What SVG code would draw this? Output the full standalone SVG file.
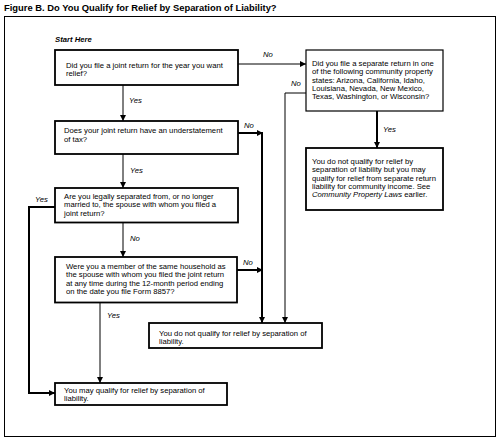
<svg xmlns="http://www.w3.org/2000/svg" width="498" height="440" viewBox="0 0 498 440">
<style>
text{font-family:"Liberation Sans",Arial,sans-serif;font-size:7.7px;fill:#000}
.title{font-size:9.4px;font-weight:bold}
.lbl{font-style:italic}
.start{font-weight:bold;font-style:italic}
.box{fill:#fff;stroke:#000;stroke-width:1.8}
.thin{fill:none;stroke:#000;stroke-width:1}
.thick{fill:none;stroke:#000;stroke-width:2}
</style>
<defs>
<marker id="ah" markerUnits="userSpaceOnUse" markerWidth="6" markerHeight="6" refX="6" refY="3" orient="auto">
<path d="M0,0 L6,3 L0,6 z" fill="#000"/>
</marker>
</defs>
<rect width="498" height="440" fill="#fff"/>
<text class="title" x="4" y="11">Figure B. Do You Qualify for Relief by Separation of Liability?</text>
<rect x="4.5" y="16.5" width="491" height="420" fill="none" stroke="#000" stroke-width="1"/>
<text class="start" x="55" y="42">Start Here</text>

<g id="connectors">
<path class="thin" d="M123,85 V121" marker-end="url(#ah)"/>
<path class="thin" d="M238,64 H306" marker-end="url(#ah)"/>
<path class="thick" d="M238,133 H263" marker-end="url(#ah)"/>
<path class="thick" d="M262,133 V323" marker-end="url(#ah)"/>
<path class="thin" d="M123,154 V188" marker-end="url(#ah)"/>
<path class="thick" d="M55,207 H29 V393 H55" marker-end="url(#ah)"/>
<path class="thin" d="M123,222 V257" marker-end="url(#ah)"/>
<path class="thick" d="M237,270 H263" marker-end="url(#ah)"/>
<path class="thin" d="M100,302 V383" marker-end="url(#ah)"/>
<path class="thin" d="M306,93 H285 V323" marker-end="url(#ah)"/>
<path class="thick" d="M377,111 V148" marker-end="url(#ah)"/>
<text class="lbl" x="129" y="103">Yes</text>
<text class="lbl" x="263" y="57">No</text>
<text class="lbl" x="244" y="128">No</text>
<text class="lbl" x="130" y="173">Yes</text>
<text class="lbl" x="35" y="202">Yes</text>
<text class="lbl" x="130" y="241">No</text>
<text class="lbl" x="243" y="265">No</text>
<text class="lbl" x="107" y="318">Yes</text>
<text class="lbl" x="291" y="86">No</text>
<text class="lbl" x="383" y="132">Yes</text>
</g>

<g id="q1">
<rect class="box" x="55" y="50" width="183" height="35"/>
<text x="66" y="67.5">Did you file a joint return for the year you want</text>
<text x="66" y="76">relief?</text>
</g>
<g id="q2">
<rect class="box" x="55" y="121" width="183" height="33"/>
<text x="64" y="132.5">Does your joint return have an understatement</text>
<text x="64" y="141.5">of tax?</text>
</g>
<g id="q3">
<rect class="box" x="55" y="188" width="183" height="34.5"/>
<text x="64" y="198.5">Are you legally separated from, or no longer</text>
<text x="64" y="207">married to, the spouse with whom you filed a</text>
<text x="64" y="215.5">joint return?</text>
</g>
<g id="q4">
<rect class="box" x="55" y="257" width="182" height="45.5"/>
<text x="66" y="269">Were you a member of the same household as</text>
<text x="66" y="277.4">the spouse with whom you filed the joint return</text>
<text x="66" y="285.8">at any time during the 12-month period ending</text>
<text x="66" y="294.2">on the date you file Form 8857?</text>
</g>
<g id="q5">
<rect x="306" y="50" width="137" height="61" fill="#fff" stroke="#000" stroke-width="1.2"/>
<text x="312" y="66">Did you file a separate return in one</text>
<text x="312" y="74.3">of the following community property</text>
<text x="312" y="82.6">states: Arizona, California, Idaho,</text>
<text x="312" y="90.9">Louisiana, Nevada, New Mexico,</text>
<text x="312" y="99.2">Texas, Washington, or Wisconsin?</text>
</g>
<g id="r_community">
<rect class="box" x="306" y="148" width="137" height="62"/>
<text x="312" y="164">You do not qualify for relief by</text>
<text x="312" y="172.3">separation of liability but you may</text>
<text x="312" y="180.6">qualify for relief from separate return</text>
<text x="312" y="188.9">liability for community income. See</text>
<text x="312" y="197.2"><tspan font-style="italic">Community Property Laws</tspan> earlier.</text>
</g>
<g id="r_no">
<rect class="box" x="149" y="323" width="173" height="25"/>
<text x="159" y="335.5">You do not qualify for relief by separation of</text>
<text x="159" y="344">liability.</text>
</g>
<g id="r_yes">
<rect class="box" x="55" y="383" width="172" height="22"/>
<text x="64" y="392.5">You may qualify for relief by separation of</text>
<text x="64" y="401">liability.</text>
</g>
</svg>
